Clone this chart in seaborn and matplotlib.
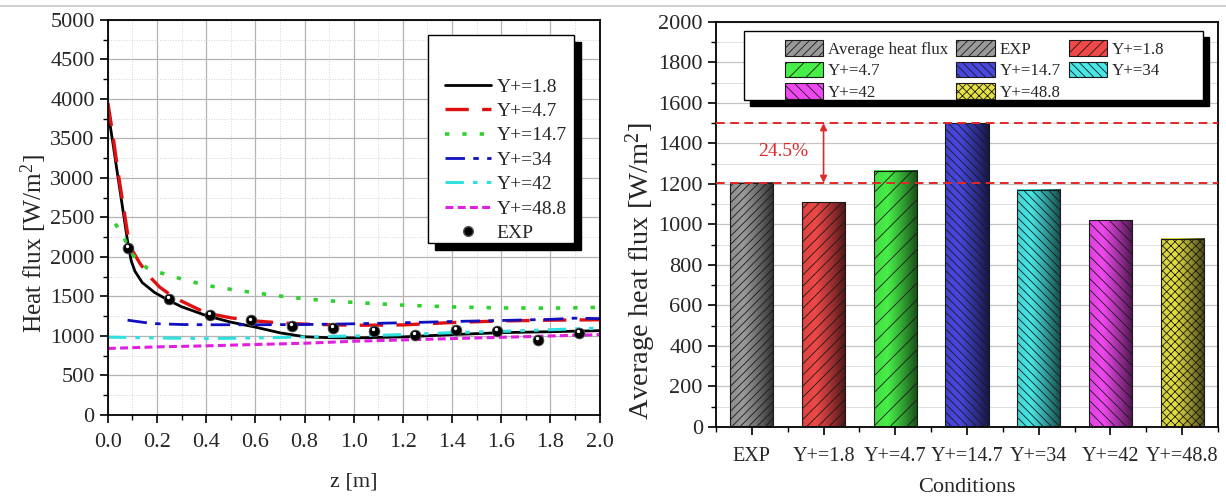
import numpy as np
import matplotlib
matplotlib.use("Agg")
import matplotlib.pyplot as plt
import matplotlib.colors as mcolors
import seaborn as sns
from matplotlib.patches import Patch, Rectangle
from matplotlib.lines import Line2D
from matplotlib.ticker import MultipleLocator, FormatStrFormatter

# ---------------- data (left panel) ----------------
z_y18 = [0.0, 0.02, 0.04, 0.06, 0.08, 0.095, 0.11, 0.14, 0.19, 0.25, 0.30, 0.40, 0.50, 0.60, 0.70, 0.80, 0.90, 1.0, 1.2, 1.4, 1.6, 1.8, 2.0]
q_y18 = [3850, 3450, 3030, 2620, 2200, 1950, 1820, 1675, 1550, 1446, 1370, 1258, 1175, 1112, 1040, 990, 978, 975, 988, 1017, 1042, 1054, 1067]

z_y47 = [0.0, 0.02, 0.04, 0.06, 0.08, 0.10, 0.13, 0.17, 0.21, 0.25, 0.30, 0.40, 0.50, 0.60, 0.70, 0.80, 1.0, 1.2, 1.4, 1.6, 1.8, 2.0]
q_y47 = [3950, 3550, 3100, 2700, 2300, 2080, 1920, 1750, 1620, 1530, 1440, 1290, 1230, 1190, 1165, 1150, 1135, 1140, 1170, 1190, 1200, 1205]

z_y147 = [0.03, 0.06, 0.09, 0.12, 0.16, 0.20, 0.25, 0.30, 0.40, 0.50, 0.60, 0.70, 0.80, 0.90, 1.0, 1.2, 1.4, 1.6, 1.8, 2.0]
q_y147 = [2420, 2280, 2080, 1950, 1860, 1810, 1770, 1720, 1640, 1590, 1545, 1505, 1470, 1445, 1425, 1390, 1368, 1355, 1352, 1362]

z_y34 = [0.08, 0.15, 0.20, 0.30, 0.40, 0.60, 0.80, 1.0, 1.2, 1.4, 1.6, 1.8, 1.9, 2.0]
q_y34 = [1200, 1170, 1155, 1145, 1142, 1142, 1145, 1154, 1167, 1183, 1196, 1210, 1225, 1220]

z_y42 = [0.0, 0.2, 0.4, 0.6, 0.8, 1.0, 1.2, 1.4, 1.6, 1.8, 2.0]
q_y42 = [985, 975, 967, 975, 988, 1000, 1017, 1042, 1058, 1079, 1100]

z_y488 = [0.0, 0.2, 0.4, 0.6, 0.8, 1.0, 1.2, 1.4, 1.6, 1.8, 2.0]
q_y488 = [842, 862, 875, 892, 908, 933, 950, 967, 983, 1000, 1017]

exp_z = [0.083, 0.25, 0.417, 0.583, 0.75, 0.917, 1.083, 1.25, 1.417, 1.583, 1.75, 1.917]
exp_q = [2110, 1467, 1267, 1196, 1125, 1100, 1058, 1008, 1079, 1058, 946, 1042]

# ---------------- data (right panel) ----------------
conditions = ["EXP", "Y+=1.8", "Y+=4.7", "Y+=14.7", "Y+=34", "Y+=42", "Y+=48.8"]
avg_flux = [1205, 1110, 1265, 1500, 1172, 1020, 930]
bar_colors = ["#9a9a9a", "#f04848", "#48ee48", "#4848e0", "#48e6e6", "#f048f0", "#e6e040"]
bar_hatches = ["////", "///", "//", "\\\\\\\\", "\\\\\\\\", "\\\\\\", "xxxx"]

# ---------------- style ----------------
sns.set_theme(style="white")
plt.rcParams["font.family"] = ["Liberation Serif", "DejaVu Serif"]
plt.rcParams["mathtext.fontset"] = "custom"
plt.rcParams["mathtext.rm"] = "Liberation Serif"
plt.rcParams["mathtext.default"] = "regular"
plt.rcParams["hatch.linewidth"] = 0.6
plt.rcParams["axes.edgecolor"] = "black"

fig = plt.figure(figsize=(12.26, 4.97), dpi=100)
ax1 = fig.add_axes([0.088, 0.165, 0.401, 0.795])
ax2 = fig.add_axes([0.584, 0.141, 0.4095, 0.815])

# thin border line at the top of the picture
fig.add_artist(Line2D([0, 1], [0.987, 0.987], transform=fig.transFigure, color="#c8c8c8", lw=1.2))


def boxed_frame(ax, x0, y0, x1, y1, dx, dy):
    sh = Rectangle((x0 + dx, y0 - dy), x1 - x0, y1 - y0, transform=ax.transAxes,
                   facecolor="black", edgecolor="black", zorder=7.9, clip_on=False)
    fr = Rectangle((x0, y0), x1 - x0, y1 - y0, transform=ax.transAxes,
                   facecolor="white", edgecolor="black", linewidth=1.0, zorder=8, clip_on=False)
    ax.add_patch(sh)
    ax.add_patch(fr)


# ---------------- left panel ----------------
series = [
    (z_y18, q_y18, "Y+=1.8", "black", "-", 2.0),
    (z_y47, q_y47, "Y+=4.7", "#e01010", (0, (7, 4)), 2.4),
    (z_y147, q_y147, "Y+=14.7", "#30d030", (0, (1.2, 3.6)), 2.6),
    (z_y34, q_y34, "Y+=34", "#1010c0", (0, (7, 3, 2, 3)), 2.0),
    (z_y42, q_y42, "Y+=42", "#30e0e0", (0, (6, 3, 1.5, 3, 1.5, 3)), 2.2),
    (z_y488, q_y488, "Y+=48.8", "#e020e0", (0, (2.6, 1.4)), 2.2),
]
handles1 = []
for zz, qq, lab, col, ls, lw in series:
    sns.lineplot(x=zz, y=qq, ax=ax1, color=col, linestyle=ls, linewidth=lw, sort=True, estimator=None)
    handles1.append(Line2D([], [], color=col, linestyle=ls, linewidth=lw, label=lab))

sns.scatterplot(x=exp_z, y=exp_q, ax=ax1, color="black", s=60, edgecolor="#555555", linewidth=0.6, zorder=5)
ax1.scatter(np.array(exp_z) - 0.006, np.array(exp_q) + 25, s=6, color="white", zorder=6, linewidths=0)
handles1.append(Line2D([], [], color="black", marker="o", linestyle="none", markersize=7,
                       markeredgecolor="#555555", label="EXP"))

ax1.set_xlim(0, 2.0)
ax1.set_ylim(0, 5000)
ax1.xaxis.set_major_locator(MultipleLocator(0.2))
ax1.xaxis.set_minor_locator(MultipleLocator(0.1))
ax1.yaxis.set_major_locator(MultipleLocator(500))
ax1.yaxis.set_minor_locator(MultipleLocator(250))
ax1.xaxis.set_major_formatter(FormatStrFormatter("%.1f"))
ax1.grid(which="major", color="#b4b4b4", lw=0.9)
ax1.grid(which="minor", color="#d4d4d4", lw=0.7, ls=":")
ax1.set_axisbelow(True)
ax1.tick_params(which="major", direction="out", length=6, width=1.2, labelsize=16, color="black",
                bottom=True, left=True)
ax1.tick_params(axis="x", which="major", pad=7)
ax1.tick_params(which="minor", direction="out", length=3.5, width=1.0, color="black", bottom=True, left=True)
for s in ax1.spines.values():
    s.set_linewidth(1.3)
    s.set_color("black")
ax1.set_xlabel("z [m]", fontsize=16)
ax1.xaxis.set_label_coords(0.5, -0.145)
ax1.set_ylabel("Heat flux [W/m$^{2}$]", fontsize=18.3)
ax1.yaxis.set_label_coords(-0.12, 0.435)

boxed_frame(ax1, 0.652, 0.435, 0.949, 0.962, 0.0142, 0.0177)
leg1 = ax1.legend(handles=handles1, loc="upper left", bbox_to_anchor=(0.685, 0.853), fontsize=14,
                  frameon=False, handlelength=2.4, handletextpad=0.28, labelspacing=0.35,
                  borderpad=0, borderaxespad=0)
leg1.set_zorder(10)

# ---------------- right panel ----------------
sns.barplot(x=conditions, y=avg_flux, hue=conditions, palette=bar_colors, legend=False, width=0.6,
            saturation=1, ax=ax2, edgecolor="#202020", linewidth=0.8, zorder=3)


def grad_img(color, n=80):
    c = np.array(mcolors.to_rgb(color))
    t = np.linspace(0, 1, n)
    f = np.where(t < 0.3, 0.92 + 0.08 * t / 0.3, 1.0 - 0.68 * ((t - 0.3) / 0.7) ** 1.1)
    img = np.clip(c[None, :] * f[:, None], 0, 1)
    return img[None, :, :]


for p, col, h in zip(ax2.patches, bar_colors, bar_hatches):
    x0, y0, w, hh = p.get_x(), p.get_y(), p.get_width(), p.get_height()
    ax2.imshow(grad_img(col), extent=[x0, x0 + w, y0, y0 + hh], aspect="auto", zorder=2.5,
               interpolation="bilinear")
    p.set_facecolor("none")
    p.set_hatch(h)
    p.set_edgecolor("#1a1a1a")

ax2.set_xlim(-0.5, 6.5)
ax2.set_ylim(0, 2000)
ax2.set_aspect("auto")

red = "#e02828"
ax2.axhline(avg_flux[3], color=red, lw=1.4, ls=(0, (4.5, 2.8)), zorder=4)
ax2.axhline(avg_flux[0], color=red, lw=1.4, ls=(0, (4.5, 2.8)), zorder=4)
ax2.annotate("", xy=(1.0, avg_flux[3]), xytext=(1.0, avg_flux[0]),
             arrowprops=dict(arrowstyle="<|-|>", color=red, lw=1.2, mutation_scale=10,
                             shrinkA=0, shrinkB=0), zorder=5)
pct = (avg_flux[3] - avg_flux[0]) / avg_flux[0] * 100
ax2.text(0.44, 1360, f"{pct:.1f}%", color=red, fontsize=14, ha="center", va="center")

ax2.yaxis.set_major_locator(MultipleLocator(200))
ax2.yaxis.set_minor_locator(MultipleLocator(100))
ax2.set_xticks(np.arange(-0.5, 7, 1.0), minor=True)
ax2.grid(axis="y", which="major", color="#c4c4c4", lw=0.9)
ax2.grid(axis="y", which="minor", color="#e0e0e0", lw=0.7)
ax2.grid(axis="x", which="both", visible=False)
ax2.set_axisbelow(True)
ax2.tick_params(which="major", direction="out", length=6, width=1.2, labelsize=16, color="black",
                bottom=True, left=True)
ax2.tick_params(axis="x", which="major", labelsize=14.5, pad=8.5)
ax2.tick_params(which="minor", direction="out", length=3.5, width=1.0, color="black", bottom=True, left=True)
for s in ax2.spines.values():
    s.set_linewidth(1.3)
    s.set_color("black")
ax2.set_xlabel("Conditions", fontsize=16)
ax2.xaxis.set_label_coords(0.5, -0.125)
ax2.set_ylabel("Average heat flux [W/m$^{2}$]", fontsize=20.5)
ax2.yaxis.set_label_coords(-0.115, 0.385)

leg_labels = ["Average heat flux"] + conditions
leg_colors = [bar_colors[0]] + bar_colors
leg_hatches = [bar_hatches[0]] + bar_hatches
hs = [Patch(facecolor=c, edgecolor="#1a1a1a", hatch=h, label=l, linewidth=0.8)
      for l, c, h in zip(leg_labels, leg_colors, leg_hatches)]
# row-major ordering for a 3-column legend
order = [0, 3, 6, 1, 4, 7, 2, 5]
hs_ordered = [hs[i] for i in order]
boxed_frame(ax2, 0.056, 0.807, 0.970, 0.978, 0.012, 0.015)
leg2 = ax2.legend(handles=hs_ordered, ncol=3, loc="upper left", bbox_to_anchor=(0.1375, 0.9556),
                  fontsize=12.2, frameon=False, handlelength=2.25, handleheight=1.06,
                  handletextpad=0.3, columnspacing=0.47, labelspacing=0.24,
                  borderpad=0, borderaxespad=0)
leg2.set_zorder(10)

fig.savefig("out.png", dpi=100)
